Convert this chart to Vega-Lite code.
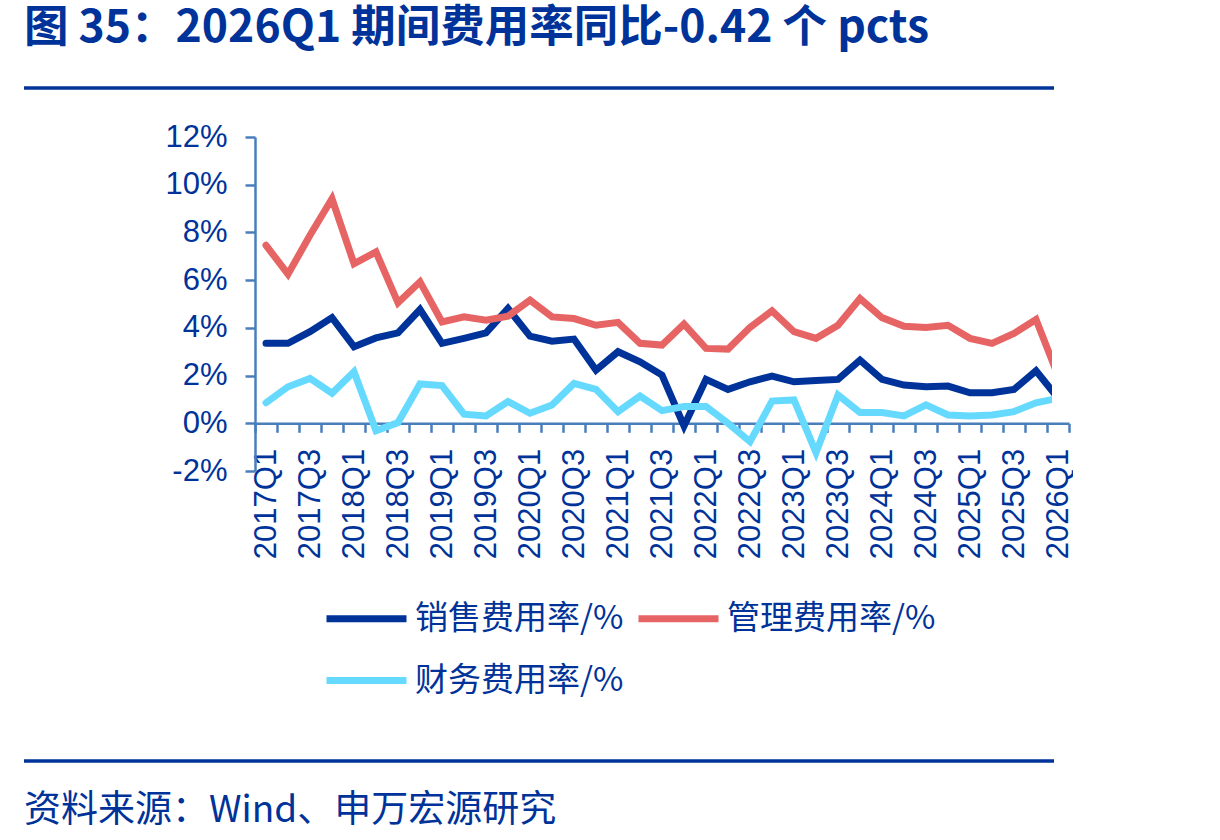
{
  "$schema": "https://vega.github.io/schema/vega-lite/v6.json",
  "background": "white",
  "padding": {"left": 22, "top": 6, "right": 0, "bottom": 0},
  "spacing": 0,
  "config": {
    "view": {"stroke": null},
    "font": "Noto Sans CJK SC"
  },
  "vconcat": [
    {
      "width": 1030,
      "height": 32.7,
      "data": {"values": [{}]},
      "title": {
        "text": "图 35：2026Q1 期间费用率同比-0.42 个 pcts",
        "anchor": "start",
        "frame": "group",
        "font": "Noto Sans CJK SC",
        "fontSize": 44.5,
        "fontWeight": "bold",
        "color": "#003399",
        "offset": 34.5
      },
      "mark": {"type": "rule", "color": "#003399", "strokeWidth": 3.5},
      "encoding": {
        "y": {"datum": 1, "type": "quantitative", "scale": {"domain": [0, 1]}, "axis": null}
      }
    },
    {
      "spacing": 0,
      "hconcat": [
        {
          "width": 131,
          "height": 334,
          "data": {"values": []},
          "mark": "point"
        },
        {
          "width": 797,
          "height": 334,
          "data": {
            "values": [
              {"q": "2017Q1", "销售费用率/%": 3.35, "管理费用率/%": 7.46, "财务费用率/%": 0.86},
              {"q": "2017Q2", "销售费用率/%": 3.35, "管理费用率/%": 6.25, "财务费用率/%": 1.53},
              {"q": "2017Q3", "销售费用率/%": 3.84, "管理费用率/%": 7.88, "财务费用率/%": 1.88},
              {"q": "2017Q4", "销售费用率/%": 4.43, "管理费用率/%": 9.41, "财务费用率/%": 1.26},
              {"q": "2018Q1", "销售费用率/%": 3.21, "管理费用率/%": 6.69, "财务费用率/%": 2.16},
              {"q": "2018Q2", "销售费用率/%": 3.58, "管理费用率/%": 7.18, "财务费用率/%": -0.31},
              {"q": "2018Q3", "销售费用率/%": 3.79, "管理费用率/%": 5.05, "财务费用率/%": 0.03},
              {"q": "2018Q4", "销售费用率/%": 4.77, "管理费用率/%": 5.93, "财务费用率/%": 1.65},
              {"q": "2019Q1", "销售费用率/%": 3.35, "管理费用率/%": 4.25, "财务费用率/%": 1.58},
              {"q": "2019Q2", "销售费用率/%": 3.56, "管理费用率/%": 4.46, "财务费用率/%": 0.38},
              {"q": "2019Q3", "销售费用率/%": 3.79, "管理费用率/%": 4.32, "财务费用率/%": 0.31},
              {"q": "2019Q4", "销售费用率/%": 4.81, "管理费用率/%": 4.49, "财务费用率/%": 0.91},
              {"q": "2020Q1", "销售费用率/%": 3.65, "管理费用率/%": 5.16, "财务费用率/%": 0.42},
              {"q": "2020Q2", "销售费用率/%": 3.44, "管理费用率/%": 4.46, "财务费用率/%": 0.77},
              {"q": "2020Q3", "销售费用率/%": 3.53, "管理费用率/%": 4.39, "财务费用率/%": 1.67},
              {"q": "2020Q4", "销售费用率/%": 2.23, "管理费用率/%": 4.11, "财务费用率/%": 1.42},
              {"q": "2021Q1", "销售费用率/%": 3.0, "管理费用率/%": 4.23, "财务费用率/%": 0.49},
              {"q": "2021Q2", "销售费用率/%": 2.58, "管理费用率/%": 3.35, "财务费用率/%": 1.14},
              {"q": "2021Q3", "销售费用率/%": 2.02, "管理费用率/%": 3.28, "财务费用率/%": 0.53},
              {"q": "2021Q4", "销售费用率/%": -0.11, "管理费用率/%": 4.16, "财务费用率/%": 0.7},
              {"q": "2022Q1", "销售费用率/%": 1.84, "管理费用率/%": 3.14, "财务费用率/%": 0.7},
              {"q": "2022Q2", "销售费用率/%": 1.42, "管理费用率/%": 3.11, "财务费用率/%": 0.0},
              {"q": "2022Q3", "销售费用率/%": 1.74, "管理费用率/%": 4.02, "财务费用率/%": -0.77},
              {"q": "2022Q4", "销售费用率/%": 1.98, "管理费用率/%": 4.71, "财务费用率/%": 0.93},
              {"q": "2023Q1", "销售费用率/%": 1.74, "管理费用率/%": 3.84, "财务费用率/%": 0.98},
              {"q": "2023Q2", "销售费用率/%": 1.79, "管理费用率/%": 3.56, "财务费用率/%": -1.23},
              {"q": "2023Q3", "销售费用率/%": 1.84, "管理费用率/%": 4.11, "财务费用率/%": 1.19},
              {"q": "2023Q4", "销售费用率/%": 2.65, "管理费用率/%": 5.23, "财务费用率/%": 0.45},
              {"q": "2024Q1", "销售费用率/%": 1.84, "管理费用率/%": 4.43, "财务费用率/%": 0.45},
              {"q": "2024Q2", "销售费用率/%": 1.6, "管理费用率/%": 4.07, "财务费用率/%": 0.31},
              {"q": "2024Q3", "销售费用率/%": 1.53, "管理费用率/%": 4.02, "财务费用率/%": 0.77},
              {"q": "2024Q4", "销售费用率/%": 1.56, "管理费用率/%": 4.11, "财务费用率/%": 0.35},
              {"q": "2025Q1", "销售费用率/%": 1.28, "管理费用率/%": 3.56, "财务费用率/%": 0.31},
              {"q": "2025Q2", "销售费用率/%": 1.28, "管理费用率/%": 3.35, "财务费用率/%": 0.35},
              {"q": "2025Q3", "销售费用率/%": 1.42, "管理费用率/%": 3.77, "财务费用率/%": 0.49},
              {"q": "2025Q4", "销售费用率/%": 2.2, "管理费用率/%": 4.35, "财务费用率/%": 0.86},
              {"q": "2026Q1", "销售费用率/%": 1.06, "管理费用率/%": 2.0, "财务费用率/%": 1.05}
            ]
          },
          "transform": [
            {"fold": ["销售费用率/%", "管理费用率/%", "财务费用率/%"], "as": ["series", "value"]}
          ],
          "mark": {
            "type": "line",
            "strokeWidth": 7,
            "strokeCap": "round",
            "strokeJoin": "miter",
            "clip": true
          },
          "encoding": {
            "x": {
              "field": "q",
              "type": "ordinal",
              "sort": null,
              "bandPosition": 0.5,
              "scale": {"type": "band", "range": [0, 814], "paddingInner": 0, "paddingOuter": 0},
              "axis": {
                "title": null,
                "orient": "bottom",
                "offset": -47.7,
                "grid": false,
                "domain": true,
                "domainColor": "#4a7ebb",
                "domainWidth": 2.5,
                "ticks": true,
                "tickBand": "extent",
                "tickSize": 9,
                "tickColor": "#4a7ebb",
                "tickWidth": 2.5,
                "labelAngle": 270,
                "labelAlign": "right",
                "labelBaseline": "middle",
                "labelFont": "Liberation Sans",
                "labelFontSize": 31,
                "labelColor": "#003399",
                "labelPadding": 16,
                "labelOverlap": false,
                "labelExpr": "test(/Q[13]$/, datum.value) ? datum.value : ''"
              }
            },
            "y": {
              "field": "value",
              "type": "quantitative",
              "scale": {"domain": [-2, 12], "nice": false, "zero": false},
              "axis": {
                "title": null,
                "values": [-2, 0, 2, 4, 6, 8, 10, 12],
                "labelExpr": "datum.value + '%'",
                "grid": false,
                "domainColor": "#4a7ebb",
                "domainWidth": 2.5,
                "tickColor": "#4a7ebb",
                "tickWidth": 2.5,
                "tickSize": 10,
                "labelFont": "Liberation Sans",
                "labelFontSize": 31,
                "labelColor": "#003399",
                "labelPadding": 18,
                "minExtent": 100
              }
            },
            "color": {
              "field": "series",
              "type": "nominal",
              "sort": ["销售费用率/%", "管理费用率/%", "财务费用率/%"],
              "scale": {
                "domain": ["销售费用率/%", "管理费用率/%", "财务费用率/%"],
                "range": ["#003399", "#e66464", "#66d9ff"]
              },
              "legend": {
                "title": null,
                "orient": "none",
                "legendX": 326,
                "legendY": 514,
                "direction": "horizontal",
                "columns": 2,
                "columnPadding": 0,
                "rowPadding": 28,
                "symbolType": "M-8,0H8",
                "symbolSize": 100,
                "symbolStrokeWidth": 7,
                "symbolFillColor": "transparent",
                "labelOffset": 32,
                "labelFont": "Noto Sans CJK SC",
                "labelFontSize": 33,
                "labelColor": "#003399",
                "labelLimit": 0
              }
            }
          }
        }
      ]
    },
    {
      "width": 1030,
      "height": 202,
      "data": {"values": [{}]},
      "title": {
        "text": "资料来源：Wind、申万宏源研究",
        "orient": "bottom",
        "anchor": "start",
        "frame": "group",
        "font": "Noto Sans CJK SC",
        "fontSize": 37,
        "fontWeight": "normal",
        "color": "#003399",
        "offset": 30
      },
      "mark": {"type": "rule", "color": "#003399", "strokeWidth": 3.5},
      "encoding": {
        "y": {"datum": 0, "type": "quantitative", "scale": {"domain": [0, 1]}, "axis": null}
      }
    }
  ]
}
